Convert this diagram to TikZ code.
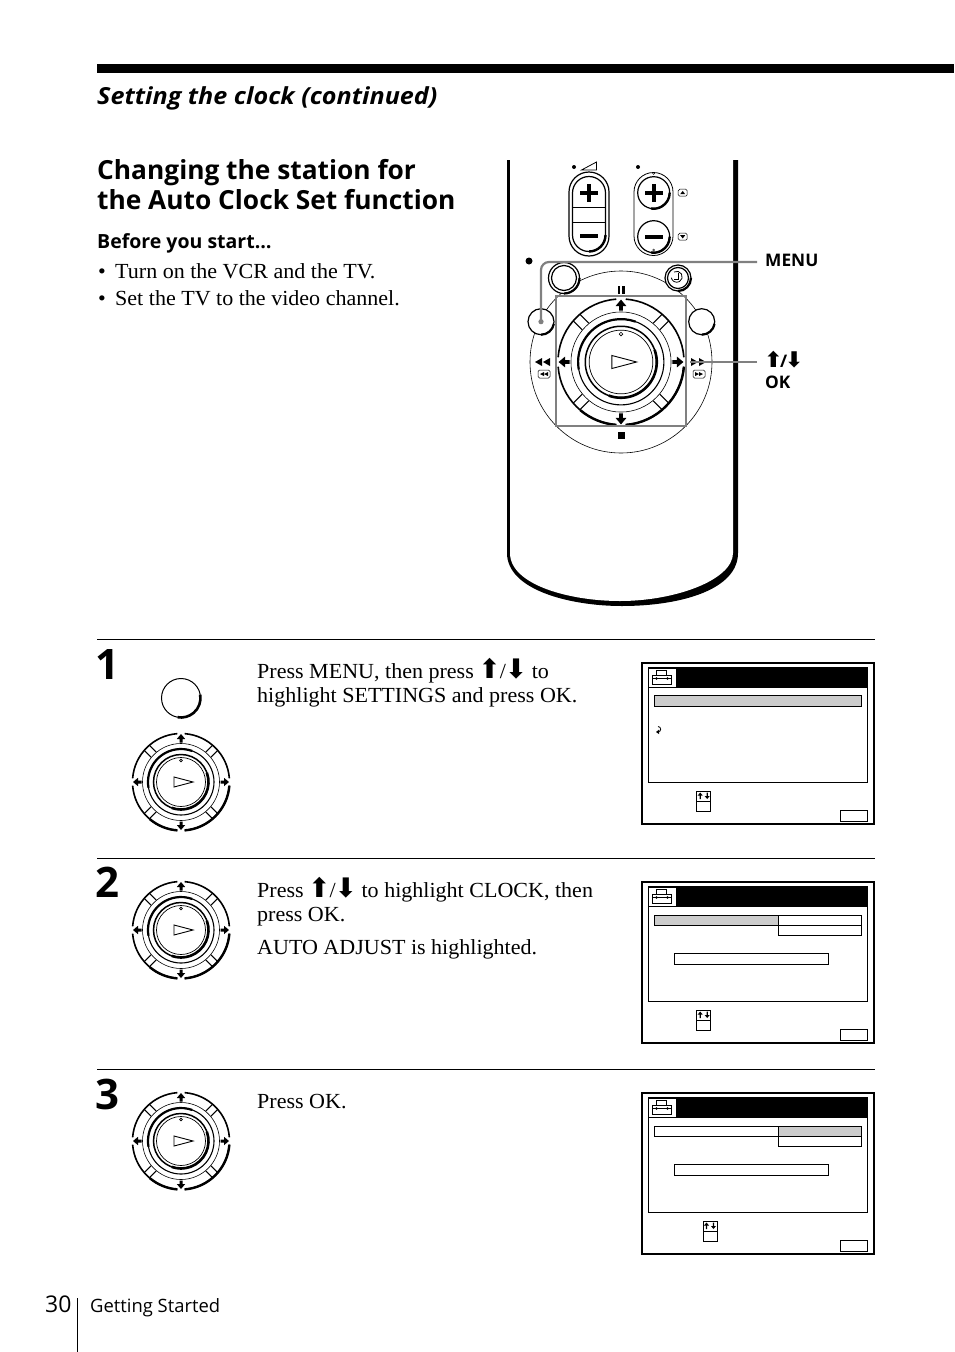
\documentclass[tikz,border=0pt]{standalone}
\usepackage{fontspec}
\setmainfont{Liberation Serif}[FakeStretch=1.025]
\setsansfont{Open Sans}
\newfontfamily\widesans{Open Sans}[FakeStretch=1.07]
\newfontfamily\arrowfont{DejaVu Sans}[Scale=1.25]
\usetikzlibrary{positioning,calc}
\newcommand{\upkey}{\kern-.05em{\arrowfont ⬆}\kern-.05em}
\newcommand{\downkey}{\kern-.05em{\arrowfont ⬇}\kern-.05em}
\tikzset{>=stealth,
  bodytext/.style={anchor=base west,inner sep=0pt,font=\fontsize{21.5}{24}\selectfont},
  headtext/.style={anchor=base west,inner sep=0pt,font=\sffamily\bfseries\fontsize{26.3}{30}\selectfont},
  stepnum/.style={anchor=base west,inner sep=0pt,font=\sffamily\bfseries\fontsize{42}{44}\selectfont},
  keytext/.style={anchor=base west,inner sep=0pt,font=\sffamily\bfseries\fontsize{17.3}{20}\selectfont},
  callout/.style={draw=black!50,line width=2.2pt},
  steprule/.style={line width=.8pt},
  osdbox/.style={draw,line width=1pt,fill=white},
  osdlit/.style={draw,line width=1pt,fill=black!20},
  jogdial/.pic={
    \draw[line width=.6pt] (0,0) circle[radius=38.5];
    \draw[line width=1.1pt] (0,0) circle[radius=33];
    \draw[line width=2.2pt] (170:33) arc[start angle=170,end angle=290,radius=33];
    \draw[line width=1.5pt] (0,0) circle[radius=27.5];
    \draw[line width=2.6pt] (-20:27.5) arc[start angle=-20,end angle=110,radius=27.5];
    \draw[line width=.7pt] (0,0) circle[radius=24.5];
    \foreach \a in {0,90,180,270}
      \draw[line width=1.6pt] (\a+4.3:48.5) arc[start angle=\a+4.3,end angle=\a+85.7,radius=48.5];
    \draw[line width=2.4pt] (4.3:48.5) arc[start angle=4.3,end angle=85.7,radius=48.5];
    \draw[line width=2.4pt] (94.3:48.5) arc[start angle=94.3,end angle=130,radius=48.5];
    \foreach \a in {45,135,225,315} {
      \draw[rotate=\a,line width=1.1pt] (38.5,-3.6) -- (48.4,-3.6);
      \draw[rotate=\a,line width=1.1pt] (38.5,3.6) -- (48.4,3.6);
    }
    \foreach \a in {0,90,180,270}
      \fill[rotate=\a] (-4.2,-43) -- (0,-48) -- (4.2,-43) -- (1.5,-43) -- (1.5,-39.5) -- (-1.5,-39.5) -- (-1.5,-43) -- cycle;
    \draw[line width=.6pt] (0,-21.5) circle[radius=1.4];
    \draw[line width=.9pt] (-7,-5) -- (12,0) -- (-7,5) -- cycle;
  },
  osdscreen/.pic={
    \draw[line width=2pt] (0,0) rectangle (231.5,161.5);
    \draw[line width=1pt] (6,5) rectangle (225.5,120);
    \fill (6,5) rectangle (225.5,25);
    \fill[white] (7,6) rectangle (34,24.5);
    \draw[line width=1pt] (14.7,7.5) rectangle (24.7,13);
    \draw[line width=1pt,fill=white] (10.7,13) rectangle (29.3,21.8);
    \draw[line width=.7pt] (10.7,16) -- (29.3,16);
    \fill (14.5,16) circle[radius=1.4];
    \fill (25.5,16) circle[radius=1.4];
    \draw[line width=1pt] (198,148) rectangle (225.5,159);
  },
  keybox/.pic={
    \draw[line width=1pt] (0,0) rectangle (14,20);
    \draw[line width=1pt] (0,10) -- (14,10);
    \fill (3.5,1.5) -- (6,4.5) -- (4.2,4.5) -- (4.2,8) -- (2.8,8) -- (2.8,4.5) -- (1,4.5) -- cycle;
    \fill (10.5,8) -- (13,5) -- (11.2,5) -- (11.2,1.5) -- (9.8,1.5) -- (9.8,5) -- (8,5) -- cycle;
  },
  clockmenu/.pic={
    \draw[osdlit] (12,24) rectangle (136,34);
    \draw[osdbox] (136,24) rectangle (219.5,34);
    \draw[osdbox] (136,34) rectangle (219.5,44);
    \draw[osdbox] (32,62) rectangle (186,73);
  },
  tinykey/.pic={
    \draw[line width=.5pt,rounded corners=1.5pt] (-4.5,-3.5) rectangle (4.5,3.5);
    \fill (-2.5,1.5) -- (0,-1.8) -- (2.5,1.5) -- cycle;
  }
}
\begin{document}
\begin{tikzpicture}[x=1pt,y=-1pt]
\useasboundingbox (0,0) rectangle (954,1352);
% page head
\fill (97,64) rectangle (954,73);
\node[anchor=base west,inner sep=0pt,font=\widesans\bfseries\itshape\fontsize{23.5}{26}\selectfont] (pagehead) at (97,104) {Setting the clock (continued)};
\node[headtext] (titleone) at (97,179) {Changing the station for};
\node[headtext] (titletwo) at (97,209) {the Auto Clock Set function};
\node[anchor=base west,inner sep=0pt,font=\sffamily\bfseries\fontsize{19.5}{22}\selectfont] (before) at (97,248) {Before you start…};
\node[bodytext] (bulletone) at (98,278) {•};
\node[bodytext] (turnon) at (115,278) {Turn on the VCR and the TV.};
\node[bodytext] (bullettwo) at (98,305) {•};
\node[bodytext] (setthe) at (115,305) {Set the TV to the video channel.};
% remote body
\fill (507,160) -- (507,553) .. controls (507,590) and (570,606) .. (622,606) .. controls (680,606) and (738,590) .. (738,553) -- (738,160) -- cycle;
\fill[white] (510,160) -- (510,553) .. controls (510,585) and (570,601) .. (620,601) .. controls (675,601) and (733,580) .. (733,553) -- (733,160) -- cycle;
% volume and channel keys
\fill (574,167) circle[radius=2];
\draw[line width=.8pt] (581.5,170) -- (596.5,162) -- (596.5,170) -- cycle;
\fill (638,167) circle[radius=2];
\draw[line width=1.2pt] (569,192) arc[start angle=180,end angle=360,radius=20] -- (609,236) arc[start angle=0,end angle=180,radius=20] -- cycle;
\draw[line width=1.2pt] (572.5,193) arc[start angle=180,end angle=360,radius=16.5] -- (605.5,235) arc[start angle=0,end angle=180,radius=16.5] -- cycle;
\draw[line width=1pt] (572.5,207) -- (605.5,207);
\draw[line width=1pt] (572.5,222) -- (605.5,222);
\draw[line width=2.4pt] (605.5,235) arc[start angle=0,end angle=90,radius=16.5];
\fill (586.8,184) rectangle (591.2,202);
\fill (580,190.8) rectangle (598,195.2);
\fill (580,233.8) rectangle (598,238.2);
\draw[line width=.8pt] (634,192) arc[start angle=180,end angle=360,radius=19.5] -- (673,236) arc[start angle=0,end angle=180,radius=19.5] -- cycle;
\draw[line width=1.2pt] (653.7,192.7) circle[radius=16];
\draw[line width=1.2pt] (653.7,236.7) circle[radius=16];
\draw[line width=2.4pt] (653.7,192.7) ++(0:16) arc[start angle=0,end angle=100,radius=16];
\draw[line width=2.4pt] (653.7,236.7) ++(0:16) arc[start angle=0,end angle=100,radius=16];
\fill (651.5,184) rectangle (655.9,201.5);
\fill (645,190.5) rectangle (662.5,194.9);
\fill (645,234.5) rectangle (662.5,238.9);
\draw[line width=.4pt] (653.7,173.5) circle[radius=1];
\draw[line width=.4pt] (653.7,250) circle[radius=1];
\pic at (682.7,192.7) {tinykey};
\pic[yscale=-1] at (682.7,236.7) {tinykey};
% transport keys
\fill (529,261) circle[radius=3.5];
\draw[line width=.6pt] (621,362) circle[radius=91];
\node[circle,draw,fill=white,line width=1.2pt,minimum size=31pt,inner sep=0pt] (menukey) at (564,278) {};
\draw[line width=1.2pt] (564,278) circle[radius=12.5];
\draw[line width=2.2pt] (564,278) ++(0:15.5) arc[start angle=0,end angle=90,radius=15.5];
\node[circle,draw,fill=white,line width=1.2pt,minimum size=26pt,inner sep=0pt] (clockkey) at (678,278) {};
\draw[line width=1.2pt] (678,278) circle[radius=10.5];
\draw[line width=2.2pt] (678,278) ++(0:13) arc[start angle=0,end angle=90,radius=13];
\draw[line width=.8pt] (678,273) -- (678,279) -- (673.5,279);
\draw[line width=.8pt] (674,272) arc[start angle=-120,end angle=170,radius=5.5];
\node[circle,draw,fill=white,line width=1.2pt,minimum size=26pt,inner sep=0pt] (leftkey) at (541,321.7) {};
\draw[line width=2.2pt] (541,321.7) ++(10:13) arc[start angle=10,end angle=90,radius=13];
\node[circle,draw,fill=white,line width=1.2pt,minimum size=26pt,inner sep=0pt] (rightkey) at (701.7,321.7) {};
\draw[line width=2.2pt] (701.7,321.7) ++(10:13) arc[start angle=10,end angle=90,radius=13];
\pic[scale=1.3] at (621,362) {jogdial};
\fill (617.5,286) rectangle (619.7,294);
\fill (622.3,286) rectangle (624.5,294);
\fill (617.5,431.5) rectangle (624.5,438.5);
\fill (535,362) -- (542,358) -- (542,366) -- cycle;
\fill (543,362) -- (550,358) -- (550,366) -- cycle;
\fill (698,362) -- (691,358) -- (691,366) -- cycle;
\fill (706,362) -- (699,358) -- (699,366) -- cycle;
\draw[line width=.5pt,rounded corners=1.5pt] (538,370) rectangle (550,378);
\fill (540,374) -- (544,372) -- (544,376) -- cycle;
\fill (544,374) -- (548,372) -- (548,376) -- cycle;
\draw[line width=.5pt,rounded corners=1.5pt] (693,370) rectangle (705,378);
\fill (703,374) -- (699,372) -- (699,376) -- cycle;
\fill (699,374) -- (695,372) -- (695,376) -- cycle;
% callouts
\node[keytext] (menulabel) at (765,266) {MENU};
\node[keytext] (arrowlabel) at (765,367) {\upkey\kern-.08em/\kern-.08em\downkey};
\node[keytext] (oklabel) at (765,388) {OK};
\coordinate (menustart) at (757,262);
\coordinate (arrowstart) at (757,362);
\coordinate (arrowend) at (690,362);
\coordinate (jogne) at (685.7,296);
\coordinate (jogsw) at (556,426);
\draw[callout,rounded corners=8pt] (menustart) -- (541,262) -- (leftkey.center);
\fill[black!50] (leftkey.center) circle[radius=2.6];
\draw[callout,line width=1.8pt] (jogne) rectangle (jogsw);
\draw[callout,line width=1.8pt] (arrowstart) -- (arrowend);
% steps
\draw[steprule] (97,639) -- (875,639);
\draw[steprule] (97,858) -- (875,858);
\draw[steprule] (97,1069) -- (875,1069);
\node[stepnum] (numone) at (95,679) {1};
\node[stepnum] (numtwo) at (95,897) {2};
\node[stepnum] (numthree) at (95,1109) {3};
\node[circle,draw,line width=1pt,minimum size=39pt,inner sep=0pt] (stepmenu) at (181,698) {};
\draw[line width=2.6pt] (181,698) ++(-10:19.5) arc[start angle=-10,end angle=100,radius=19.5];
\pic at (181,782) {jogdial};
\pic at (181,930) {jogdial};
\pic at (181,1141) {jogdial};
\node[bodytext] (pressa) at (257,678) {Press MENU, then press \upkey/\downkey{} to};
\node[bodytext] (pressb) at (257,702) {highlight SETTINGS and press OK.};
\node[bodytext] (pressc) at (257,897) {Press \upkey/\downkey{} to highlight CLOCK, then};
\node[bodytext] (pressd) at (257,921) {press OK.};
\node[bodytext] (presse) at (257,954) {AUTO ADJUST is highlighted.};
\node[bodytext] (pressf) at (257,1108) {Press OK.};
% screens
\pic at (642,662.5) {osdscreen};
\draw[osdlit] (654,695) rectangle (861.5,706);
\draw[line width=.8pt] (658,726.5) arc[start angle=-90,end angle=90,radius=2.7];
\fill (656,732) -- (659,729.7) -- (659,734) -- cycle;
\pic at (696.7,791) {keybox};
\pic at (642,881.5) {osdscreen};
\pic at (642,891) {clockmenu};
\pic at (696.7,1010) {keybox};
\pic at (642,1092.5) {osdscreen};
\pic at (642,1102) {clockmenu};
\draw[osdbox] (654,1126) rectangle (778,1136);
\draw[osdlit] (778,1126) rectangle (861.5,1136);
\pic at (703,1221) {keybox};
% page foot
\node[anchor=base west,inner sep=0pt,font=\sffamily\fontsize{23}{26}\selectfont] (pagenum) at (45,1312) {30};
\draw[line width=1pt] (77,1298) -- (77,1352);
\node[anchor=base west,inner sep=0pt,font=\sffamily\fontsize{18.4}{22}\selectfont] (chapter) at (90,1312) {Getting Started};
\end{tikzpicture}
\end{document}
